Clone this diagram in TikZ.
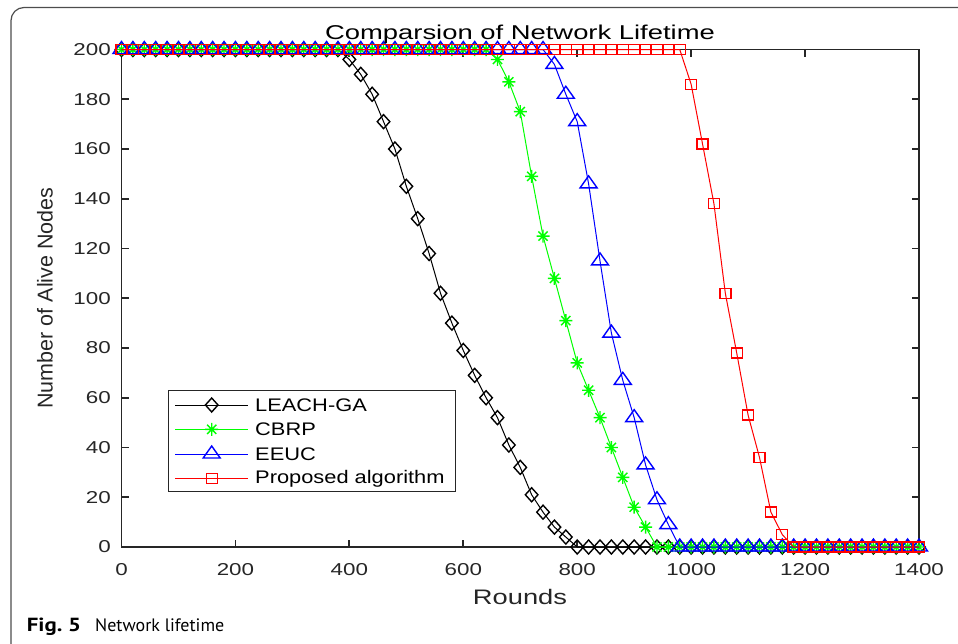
\documentclass[tikz,border=0pt]{standalone}
\usepackage{fontspec}
\usepackage{graphicx}
\setmainfont{Liberation Sans}
\newfontfamily\capfont{PT Sans}
\usetikzlibrary{plotmarks}
\definecolor{axgray}{HTML}{262626}
\definecolor{framegray}{HTML}{4D4D4D}
\definecolor{mgreen}{HTML}{00FF00}
\definecolor{mblue}{HTML}{0000FF}
\definecolor{mred}{HTML}{FF0000}
\pgfdeclareplotmark{mdia}{%
 \pgfpathmoveto{\pgfqpoint{0pt}{7pt}}%
 \pgfpathlineto{\pgfqpoint{6.3pt}{0pt}}%
 \pgfpathlineto{\pgfqpoint{0pt}{-7pt}}%
 \pgfpathlineto{\pgfqpoint{-6.3pt}{0pt}}%
 \pgfpathclose\pgfusepathqstroke}
\pgfdeclareplotmark{mstar}{%
 \pgfpathmoveto{\pgfqpoint{-6.5pt}{0pt}}\pgfpathlineto{\pgfqpoint{6.5pt}{0pt}}%
 \pgfpathmoveto{\pgfqpoint{0pt}{-6.5pt}}\pgfpathlineto{\pgfqpoint{0pt}{6.5pt}}%
 \pgfpathmoveto{\pgfqpoint{-4.6pt}{-4.6pt}}\pgfpathlineto{\pgfqpoint{4.6pt}{4.6pt}}%
 \pgfpathmoveto{\pgfqpoint{-4.6pt}{4.6pt}}\pgfpathlineto{\pgfqpoint{4.6pt}{-4.6pt}}%
 \pgfusepathqstroke}
\pgfdeclareplotmark{mtri}{%
 \pgfpathmoveto{\pgfqpoint{0pt}{8pt}}%
 \pgfpathlineto{\pgfqpoint{8.5pt}{-4pt}}%
 \pgfpathlineto{\pgfqpoint{-8.5pt}{-4pt}}%
 \pgfpathclose\pgfusepathqstroke}
\pgfdeclareplotmark{msq}{%
 \pgfpathrectanglecorners{\pgfqpoint{-5.5pt}{-5pt}}{\pgfqpoint{5.5pt}{5pt}}%
 \pgfusepathqstroke}
\newcommand{\tickfont}{\fontsize{17.2}{19}\selectfont}
\newcommand{\tk}[1]{\scalebox{1.3}[1]{#1}}
\tikzset{
  axisline/.style={draw=axgray, line width=1.8pt},
  tickline/.style={draw=axgray, line width=1.8pt},
  ticklab/.style={text=axgray, inner sep=0pt, font=\tickfont},
  series/.style={line width=1pt, mark options={solid, line width=1.4pt}},
  leach/.style={series, draw=black, mark=mdia},
  cbrp/.style={series, draw=mgreen, mark=mstar},
  eeuc/.style={series, draw=mblue, mark=mtri},
  prop/.style={series, draw=mred, mark=msq},
  legtext/.style={anchor=west, inner sep=0pt, text=black, font=\fontsize{18.2}{20}\selectfont},
}
\begin{document}
\begin{tikzpicture}[x=1pt, y=-1pt]
\useasboundingbox (0,0) rectangle (958,643);
% outer frame
\draw[framegray, line width=1.2pt, rounded corners=13pt] (960,7.5) -- (11,7.5) -- (11,645);

\begin{scope}[shift={(121.5,547)}, x=0.56964pt, y=2.4875pt]
  % axes box
  \draw[axisline] (0,0) rectangle (1400,200);
  \foreach \r in {0,200,...,1400} {
    \draw[tickline] (\r,0) -- ++(0pt,7pt);
    \draw[tickline] (\r,200) -- ++(0pt,-7pt);
    \node[ticklab, anchor=base, yshift=-28pt] (xl\r) at (\r,0) {\tk{\r}};
  }
  \foreach \v in {0,20,...,200} {
    \draw[tickline] (0,\v) -- ++(7pt,0pt);
    \draw[tickline] (1400,\v) -- ++(-7pt,0pt);
    \node[ticklab, anchor=east, xshift=-10.5pt] (yl\v) at (0,\v) {\tk{\v}};
  }
  % data
  \draw[leach] plot[samples at={0,20,...,380}] (\x,200)
    -- plot coordinates {(400,196)(420,190)(440,182)(460,171)(480,160)(500,145)(520,132)(540,118)(560,102)(580,90)(600,79)(620,69)(640,60)(660,52)(680,41)(700,32)(720,21)(740,14)(760,8)(780,4)(800,0)}
    -- plot[samples at={820,840,...,1400}] (\x,0);
  \draw[cbrp] plot[samples at={0,20,...,640}] (\x,200)
    -- plot coordinates {(660,196)(680,187)(700,175)(720,149)(740,125)(760,108)(780,91)(800,74)(820,63)(840,52)(860,40)(880,28)(900,16)(920,8)(940,0)}
    -- plot[samples at={960,980,...,1400}] (\x,0);
  \draw[eeuc] plot[samples at={0,20,...,740}] (\x,200)
    -- plot coordinates {(760,194)(780,182)(800,171)(820,146)(840,115)(860,86)(880,67)(900,52)(920,33)(940,19)(960,9)(980,0)}
    -- plot[samples at={1000,1020,...,1400}] (\x,0);
  \draw[prop] plot[samples at={0,20,...,980}] (\x,200)
    -- plot coordinates {(1000,186)(1020,162)(1040,138)(1060,102)(1080,78)(1100,53)(1120,36)(1140,14)(1160,5)(1180,0)}
    -- plot[samples at={1200,1220,...,1400}] (\x,0);
\end{scope}

% title and axis labels
\node[anchor=base, inner sep=0pt, font=\fontsize{20}{22}\selectfont] (title) at (520,39.5) {\scalebox{1.37}[1]{Comparsion of Network Lifetime}};
\node[anchor=base, inner sep=0pt, text=axgray, font=\fontsize{21}{23}\selectfont] (xlab) at (520,604.3) {\scalebox{1.3}[1]{Rounds}};
\node[rotate=90, inner sep=0pt, text=axgray, font=\fontsize{21.5}{23}\selectfont] (ylab) at (45,298) {Number of Alive Nodes};

% legend
\draw[fill=white, draw=axgray, line width=1pt] (168.3,390.7) rectangle (455,491.7);
\draw[leach] (175,405) -- (248.3,405);
\draw[leach] plot[only marks] coordinates {(211.7,405)};
\node[legtext] (lg1) at (255,405) {\scalebox{1.2}[1]{LEACH-GA}};
\draw[cbrp] (175,429.3) -- (248.3,429.3);
\draw[cbrp] plot[only marks] coordinates {(211.7,429.3)};
\node[legtext] (lg2) at (255,429.3) {\scalebox{1.2}[1]{CBRP}};
\draw[eeuc] (175,454) -- (248.3,454);
\draw[eeuc] plot[only marks] coordinates {(211.7,454)};
\node[legtext] (lg3) at (255,454) {\scalebox{1.2}[1]{EEUC}};
\draw[prop] (175,478.3) -- (248.3,478.3);
\draw[prop] plot[only marks] coordinates {(211.7,478.3)};
\node[legtext] (lg4) at (255,478.3) {\scalebox{1.2}[1]{Proposed algorithm}};

% caption
\node[anchor=base west, inner sep=0pt, font=\capfont\bfseries\fontsize{19}{21}\selectfont] (capa) at (26.7,631.7) {\scalebox{1.2}[1]{Fig.\ 5}};
\node[anchor=base west, inner sep=0pt, font=\capfont\fontsize{18}{20}\selectfont] (capb) at (95,631.7) {Network lifetime};
\end{tikzpicture}
\end{document}
